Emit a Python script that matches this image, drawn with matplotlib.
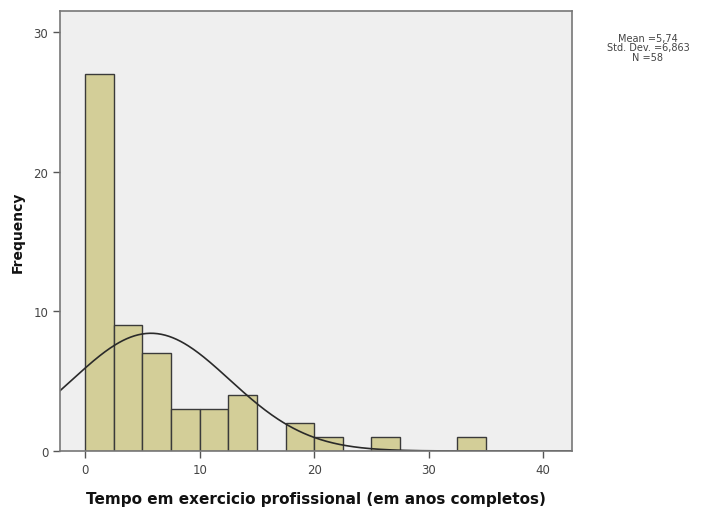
import numpy as np
import matplotlib
matplotlib.use('Agg')
import matplotlib.pyplot as plt

# histogram bins (width 2.5) and counts
bin_edges = [0, 2.5, 5, 7.5, 10, 12.5, 15, 17.5, 20, 22.5, 25, 27.5, 30, 32.5, 35]
counts = [27, 9, 7, 3, 3, 4, 0, 2, 1, 0, 1, 0, 0, 1]
mean_val = 5.74
std_val = 6.863
n_val = 58
x_ticks = [0, 10, 20, 30, 40]
y_ticks = [0, 10, 20, 30]

fig = plt.figure(figsize=(7.12, 5.10), dpi=100)
ax = fig.add_axes([0.0843, 0.1137, 0.7187, 0.8628])
ax.set_facecolor('#efefef')

lefts = np.array(bin_edges[:-1])
widths = np.diff(bin_edges)
ax.bar(lefts, counts, width=widths, align='edge', color='#d3ce98',
       edgecolor='#3a3a3a', linewidth=1.0)

# normal curve scaled to counts
bw = bin_edges[1] - bin_edges[0]
xs = np.linspace(-2.2, 42.5, 400)
ys = n_val * bw / (std_val * np.sqrt(2 * np.pi)) * np.exp(-0.5 * ((xs - mean_val) / std_val) ** 2)
ax.plot(xs, ys, color='#2a2a2a', linewidth=1.2)

ax.set_xlim(-2.2, 42.5)
ax.set_ylim(0, 31.5)
ax.set_xticks(x_ticks)
ax.set_yticks(y_ticks)
ax.tick_params(direction='out', length=5, width=1, colors='#555555',
               labelcolor='#444444', labelsize=8.5)
for s in ax.spines.values():
    s.set_color('#777777')
    s.set_linewidth(1.2)

ax.set_xlabel('Tempo em exercicio profissional (em anos completos)',
              fontsize=11, fontweight='bold', color='#111111', labelpad=11)
ax.set_ylabel('Frequency', fontsize=10, fontweight='bold', color='#111111', labelpad=6)

fig.text(0.91, 0.905, 'Mean =5,74\nStd. Dev. =6,863\nN =58', ha='center', va='center',
         fontsize=7, color='#444444', linespacing=0.95)

fig.savefig('out.png', dpi=100)
